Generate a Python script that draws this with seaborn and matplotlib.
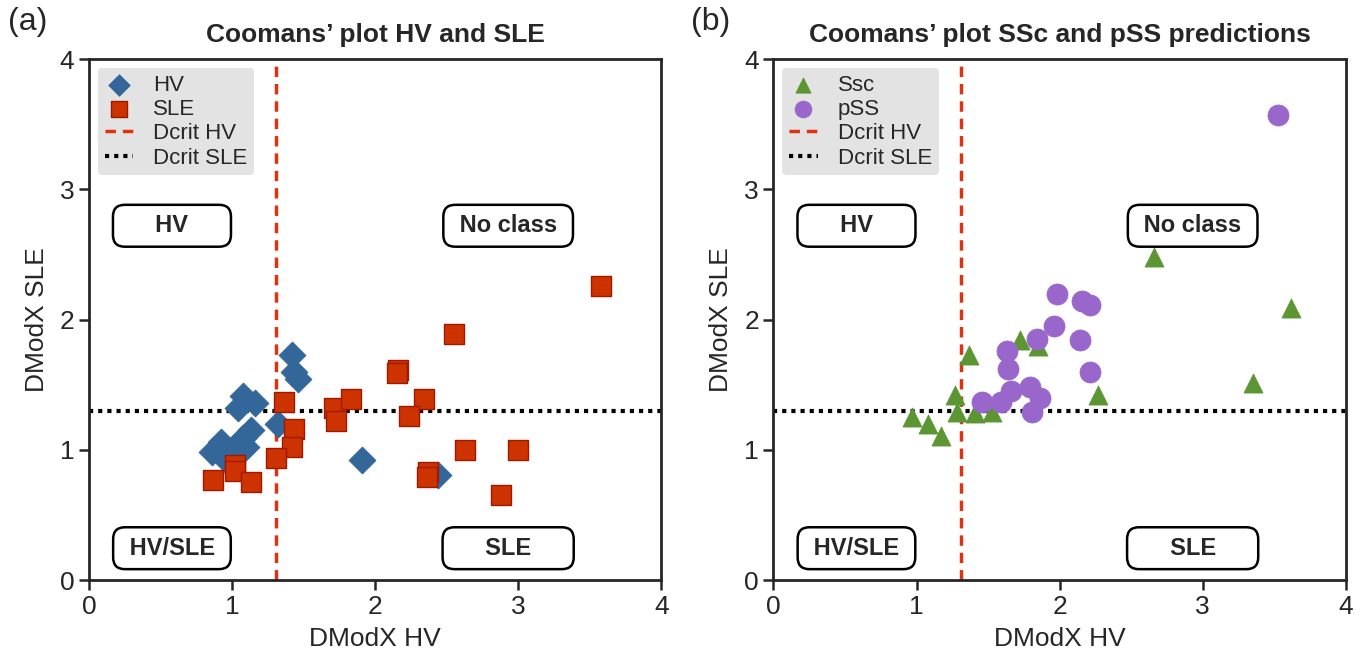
import numpy as np
import pandas as pd
import seaborn as sns
import matplotlib.pyplot as plt
from matplotlib.lines import Line2D

# 数据
hv_x = [1.42, 1.43, 1.46, 1.08, 1.16, 1.04, 1.32, 1.13, 1.08, 0.92, 0.86, 1.06, 0.96, 1.91, 2.44, 1.00, 1.10]
hv_y = [1.73, 1.60, 1.54, 1.41, 1.36, 1.32, 1.20, 1.15, 1.09, 1.06, 0.98, 1.01, 0.92, 0.92, 0.81, 0.96, 1.02]

sle_x = [2.55, 1.36, 1.43, 1.42, 1.31, 1.02, 1.02, 0.87, 1.13, 1.71, 1.73, 1.83, 2.16, 2.15,
         2.34, 2.24, 2.63, 2.37, 2.36, 3.58, 3.00, 2.88]
sle_y = [1.89, 1.37, 1.16, 1.02, 0.94, 0.88, 0.84, 0.77, 0.75, 1.32, 1.22, 1.39, 1.61, 1.59,
         1.39, 1.26, 1.00, 0.83, 0.79, 2.26, 1.00, 0.65]

ssc_x = [0.97, 1.08, 1.17, 1.27, 1.28, 1.37, 1.41, 1.53, 1.72, 1.85, 2.27, 2.66, 3.62, 3.35]
ssc_y = [1.25, 1.20, 1.11, 1.42, 1.29, 1.73, 1.28, 1.29, 1.84, 1.80, 1.42, 2.48, 2.09, 1.51]

pss_x = [3.53, 1.98, 2.16, 2.21, 1.96, 1.84, 2.14, 1.63, 1.64, 2.21, 1.66, 1.79, 1.86, 1.46, 1.59, 1.81]
pss_y = [3.57, 2.20, 2.14, 2.11, 1.95, 1.85, 1.84, 1.76, 1.62, 1.60, 1.45, 1.48, 1.40, 1.37, 1.37, 1.29]

dcrit_hv = 1.31
dcrit_sle = 1.30

regions = ['HV', 'No class', 'HV/SLE', 'SLE']
region_x = [0.58, 2.93, 0.58, 2.93]
region_y = [2.72, 2.72, 0.245, 0.245]
# 框宽度用空格撑开
region_pad = {'HV': '     HV     ', 'No class': ' No class ',
              'HV/SLE': ' HV/SLE ', 'SLE': '     SLE     '}

sns.set_style('ticks')
plt.rcParams['font.family'] = ['Liberation Sans', 'DejaVu Sans']

fig = plt.figure(figsize=(13.69, 6.63), dpi=100)
ax1 = fig.add_axes([0.065, 0.125, 0.418, 0.786])
ax2 = fig.add_axes([0.565, 0.125, 0.418, 0.786])

# (a)
sns.scatterplot(x=hv_x, y=hv_y, ax=ax1, marker='D', s=190, color='#336699',
                edgecolor='#336699', linewidth=0.5, label='HV', zorder=3)
sns.scatterplot(x=sle_x, y=sle_y, ax=ax1, marker='s', s=200, color='#cc3300',
                edgecolor='#a01800', linewidth=1, label='SLE', zorder=4)

# (b)
sns.scatterplot(x=ssc_x, y=ssc_y, ax=ax2, marker='^', s=190, color='#5b9632',
                edgecolor='#5b9632', linewidth=0.5, label='Ssc', zorder=3)
sns.scatterplot(x=pss_x, y=pss_y, ax=ax2, marker='o', s=230, color='#9966cc',
                edgecolor='#9966cc', linewidth=0.5, label='pSS', zorder=4)

titles = ['Coomans\u2019 plot HV and SLE', 'Coomans\u2019 plot SSc and pSS predictions']
for ax, title in zip([ax1, ax2], titles):
    ax.axvline(dcrit_hv, color='#dd3311', ls=(0, (3, 2)), lw=2.5, zorder=2)
    ax.axhline(dcrit_sle, color='black', ls=(0, (1, 1.2)), lw=3, zorder=2)
    ax.set_xlim(0, 4)
    ax.set_ylim(0, 4)
    ax.set_xticks([0, 1, 2, 3, 4])
    ax.set_yticks([0, 1, 2, 3, 4])
    ax.set_xlabel('DModX HV', fontsize=19, labelpad=6)
    ax.set_ylabel('DModX SLE', fontsize=19, labelpad=8)
    ax.set_title(title, fontsize=19, fontweight='bold', pad=12)
    ax.tick_params(labelsize=19, width=1.8, length=7, direction='out')
    for sp in ax.spines.values():
        sp.set_linewidth(2)
    for name, rx, ry in zip(regions, region_x, region_y):
        ax.text(rx, ry, region_pad[name], ha='center', va='center', fontsize=17, fontweight='bold',
                bbox=dict(boxstyle='round,pad=0.4,rounding_size=0.5', fc='white', ec='black', lw=1.8),
                zorder=5)

    handles, labels = ax.get_legend_handles_labels()
    handles = handles[:2] + [Line2D([], [], color='#dd3311', ls=(0, (3, 2)), lw=2.5),
                             Line2D([], [], color='black', ls=(0, (1, 1.2)), lw=3)]
    labels = labels[:2] + ['Dcrit HV', 'Dcrit SLE']
    leg = ax.legend(handles, labels, loc='upper left', fontsize=16, frameon=True,
                    facecolor='#e3e3e3', edgecolor='none', framealpha=1, markerscale=0.8,
                    handlelength=1.3, handletextpad=0.9, labelspacing=0.15,
                    borderpad=0.3, borderaxespad=0.4)
    leg.get_frame().set_boxstyle('round,pad=0.0,rounding_size=0.2')

fig.text(0.006, 0.99, '(a)', fontsize=23, ha='left', va='top')
fig.text(0.505, 0.99, '(b)', fontsize=23, ha='left', va='top')

plt.savefig('out.png', dpi=100)
